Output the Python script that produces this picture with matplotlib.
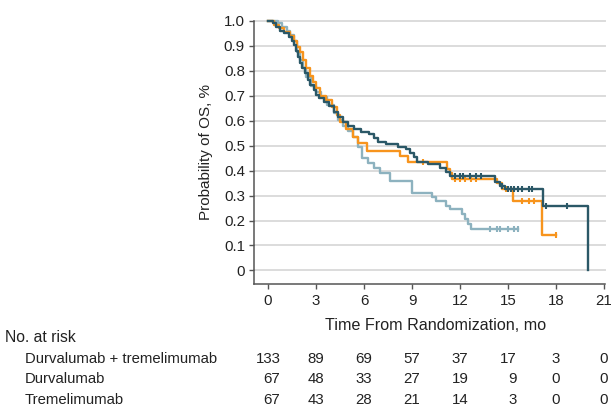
import matplotlib
matplotlib.use("Agg")
import matplotlib.pyplot as plt
from matplotlib.transforms import blended_transform_factory

plt.rcParams['font.family'] = ['Liberation Sans', 'DejaVu Sans']

# =====================
# data
# =====================
dt_time = [0, 0.3, 0.5, 0.75, 1.0, 1.3, 1.5, 1.65, 1.75, 1.85, 2.0, 2.15, 2.3, 2.5,
           2.65, 2.85, 3.0, 3.2, 3.5, 3.8, 4.1, 4.4, 4.7, 5.0, 5.4, 5.8, 6.3, 6.6,
           6.9, 7.4, 8.1, 8.6, 8.9, 9.1, 9.3, 10.0, 10.75, 11.1, 11.4, 14.2, 14.5,
           14.8, 17.2, 20.0]
dt_surv = [1.0, 0.99, 0.975, 0.96, 0.95, 0.935, 0.92, 0.905, 0.88, 0.855, 0.83, 0.81,
           0.79, 0.765, 0.745, 0.725, 0.705, 0.69, 0.675, 0.66, 0.635, 0.615, 0.595,
           0.58, 0.565, 0.555, 0.545, 0.53, 0.515, 0.505, 0.495, 0.485, 0.47, 0.455,
           0.435, 0.425, 0.41, 0.395, 0.38, 0.355, 0.34, 0.325, 0.258, 0.0]
dt_cens = [11.7, 12.0, 12.2, 12.6, 13.0, 13.3, 14.6, 15.0, 15.2, 15.4, 15.6, 15.9,
           16.3, 16.5, 17.4, 18.7]

d_time = [0, 0.4, 0.7, 1.0, 1.4, 1.6, 1.8, 2.0, 2.2, 2.4, 2.6, 2.8, 3.0, 3.25, 3.6,
          4.0, 4.3, 4.5, 4.9, 5.3, 5.6, 6.2, 8.25, 8.75, 11.2, 11.4, 11.5, 14.3,
          14.6, 15.3, 17.1, 18.0]
d_surv = [1.0, 0.985, 0.97, 0.955, 0.94, 0.92, 0.895, 0.875, 0.845, 0.81, 0.78,
          0.755, 0.73, 0.7, 0.685, 0.655, 0.625, 0.595, 0.565, 0.535, 0.51, 0.48,
          0.46, 0.435, 0.405, 0.39, 0.368, 0.35, 0.325, 0.28, 0.14, 0.14]
d_cens = [9.7, 11.7, 12.0, 12.3, 12.7, 13.0, 14.9, 15.9, 16.3, 16.6, 18.0]

t_time = [0, 0.6, 0.9, 1.2, 1.4, 1.6, 1.8, 2.0, 2.2, 2.4, 2.7, 3.0, 3.3, 3.7, 4.1,
          4.4, 4.7, 5.0, 5.3, 5.6, 5.9, 6.25, 6.6, 7.0, 7.6, 9.0, 10.25, 10.5, 11.1,
          11.4, 12.1, 12.3, 12.5, 12.7, 15.6]
t_surv = [1.0, 0.99, 0.975, 0.96, 0.945, 0.92, 0.875, 0.845, 0.81, 0.775, 0.74,
          0.715, 0.695, 0.665, 0.63, 0.605, 0.58, 0.56, 0.535, 0.495, 0.45, 0.43,
          0.41, 0.392, 0.36, 0.31, 0.295, 0.28, 0.26, 0.245, 0.225, 0.205, 0.185,
          0.165, 0.165]
t_cens = [13.9, 14.3, 14.5, 15.0, 15.4, 15.6]

groups = ["Durvalumab + tremelimumab", "Durvalumab", "Tremelimumab"]
risk_times = [0, 3, 6, 9, 12, 15, 18, 21]
risk_counts = [
    [133, 89, 69, 57, 37, 17, 3, 0],
    [67, 48, 33, 27, 19, 9, 0, 0],
    [67, 43, 28, 21, 14, 3, 0, 0],
]

yticks = [0, 0.1, 0.2, 0.3, 0.4, 0.5, 0.6, 0.7, 0.8, 0.9, 1.0]
ytick_labels = ["0", "0.1", "0.2", "0.3", "0.4", "0.5", "0.6", "0.7", "0.8", "0.9", "1.0"]

c_dt = "#2b5867"
c_d = "#f7941d"
c_t = "#8db2bf"
txt = "#222222"

# =====================
# figure
# =====================
W, H = 612, 408
fig = plt.figure(figsize=(W / 100, H / 100), dpi=100)
ax = fig.add_axes([254 / W, 1 - 284 / H, (605 - 254) / W, (284 - 21) / H])

xmin, xmax = -0.875, 21.06
ax.set_xlim(xmin, xmax)
ax.set_ylim(-0.0545, 1.0)

for y in yticks:
    ax.axhline(y, color="#dcdcdc", lw=1.4, zorder=0, clip_on=False)


def km(times, surv, cens, color, z):
    ax.step(times, surv, where="post", color=color, lw=1.7, zorder=z, clip_on=False)
    cy = []
    for c in cens:
        s = surv[0]
        for tt, ss in zip(times, surv):
            if tt <= c:
                s = ss
        cy.append(s)
    ax.plot(cens, cy, ls="none", marker="|", ms=5, mew=1.5, color=color, zorder=z)


km(t_time, t_surv, t_cens, c_t, 2)
km(d_time, d_surv, d_cens, c_d, 3)
km(dt_time, dt_surv, dt_cens, c_dt, 4)

ax.spines["top"].set_visible(False)
ax.spines["right"].set_visible(False)
for s in ["left", "bottom"]:
    ax.spines[s].set_color("#555555")
    ax.spines[s].set_linewidth(1.1)

ax.set_xticks(risk_times)
ax.set_yticks(yticks)
ax.set_yticklabels(ytick_labels)
ax.tick_params(axis="both", length=3.5, width=1, color="#555555",
               labelsize=10.8, labelcolor=txt)
ax.tick_params(axis="x", pad=4)
ax.tick_params(axis="y", pad=3)
ax.set_ylabel("Probability of OS, %", fontsize=11, color=txt, labelpad=8)

# x-axis title centered over the data range
tr = blended_transform_factory(ax.transData, fig.transFigure)
ax.text(10.5, 1 - 325 / H, "Time From Randomization, mo", transform=tr,
        ha="center", va="center", fontsize=11.6, color=txt)

# =====================
# number at risk
# =====================
fig.text(5 / W, 1 - 338 / H, "No. at risk", ha="left", va="center",
         fontsize=11.3, color=txt)
row_y = [359, 379, 400]
for g, py, counts in zip(groups, row_y, risk_counts):
    fig.text(25 / W, 1 - py / H, g, ha="left", va="center", fontsize=10.7, color=txt)
for j, t in enumerate(risk_times):
    nmax = max(len(str(r[j])) for r in risk_counts)
    xr = t + nmax * 4.15 / 16
    for py, counts in zip(row_y, risk_counts):
        ax.text(xr, 1 - py / H, str(counts[j]), transform=tr, ha="right",
                va="center", fontsize=10.8, color=txt)

fig.savefig("out.png", dpi=100)
